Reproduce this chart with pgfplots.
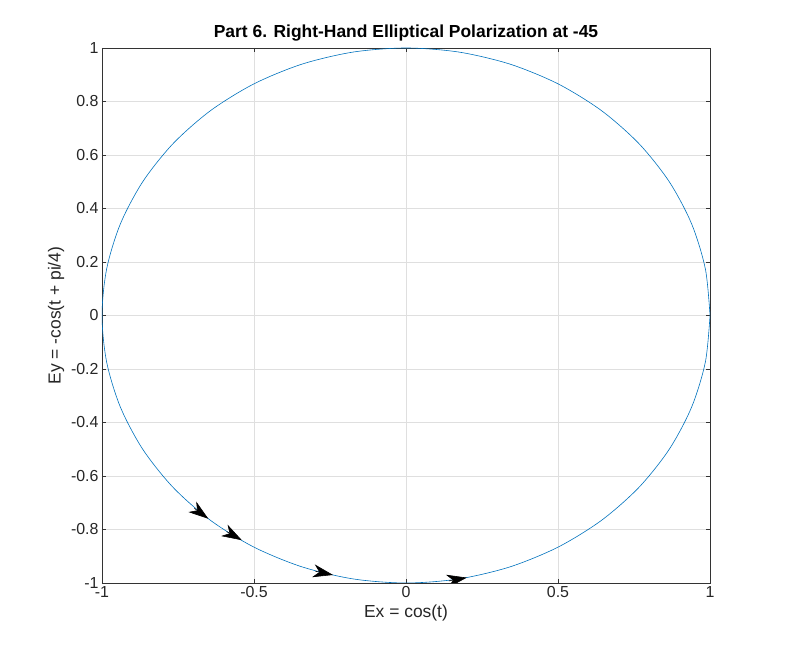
\documentclass[border=0pt]{standalone}
\usepackage{pgfplots}
\pgfplotsset{compat=1.18}
\usepackage{fontspec}
\setmainfont{Liberation Sans}
\usetikzlibrary{arrows.meta}
\definecolor{mblue}{RGB}{0,114,189}
\begin{document}
\begin{tikzpicture}[x=1bp,y=1bp]
\path[use as bounding box] (-102,-73) rectangle (684,583);
\begin{axis}[at={(0,0)},anchor=south west,scale only axis,width=608bp,height=535bp,
xmin=-1,xmax=1,ymin=-1,ymax=1,
xtick={-1,-0.5,0,0.5,1},ytick={-1,-0.8,...,1},
grid=major,major grid style={gray!25},
tick align=inside,tick style={black!80},axis line style={black!80},
ticklabel style={font=\fontsize{16}{18}\selectfont,text=black!85},
/pgf/number format/assume math mode=true,
yticklabel style={/pgf/number format/fixed,/pgf/number format/precision=1},
xlabel={Ex = cos(t)},ylabel={Ey = -cos(t + pi/4)},
label style={font=\fontsize{17.5}{20}\selectfont,text=black!85},
title={\textbf{Part 6. Right-Hand Elliptical Polarization at -45}},
title style={font=\fontsize{17.5}{20}\selectfont,yshift=-3bp},
]
\addplot[mblue,line width=0.6pt,smooth] coordinates {
(1,0)(0.9848,0.1736)(0.9397,0.3420)(0.8660,0.5)(0.7660,0.6428)(0.6428,0.7660)(0.5,0.8660)(0.3420,0.9397)(0.1736,0.9848)(0,1)
(-0.1736,0.9848)(-0.3420,0.9397)(-0.5,0.8660)(-0.6428,0.7660)(-0.7660,0.6428)(-0.8660,0.5)(-0.9397,0.3420)(-0.9848,0.1736)(-1,0)
(-0.9848,-0.1736)(-0.9397,-0.3420)(-0.8660,-0.5)(-0.7660,-0.6428)(-0.6428,-0.7660)(-0.5,-0.8660)(-0.3420,-0.9397)(-0.1736,-0.9848)(0,-1)
(0.1736,-0.9848)(0.3420,-0.9397)(0.5,-0.8660)(0.6428,-0.7660)(0.7660,-0.6428)(0.8660,-0.5)(0.9397,-0.3420)(0.9848,-0.1736)(1,0)};
\addplot[black,line width=0.6pt,-{Stealth[length=20bp,width=13bp,inset=6bp]},
 quiver={u=\thisrow{u},v=\thisrow{v}}] table {
x y u v
-0.696 -0.721 0.046 -0.039
-0.590 -0.808 0.050 -0.032
-0.298 -0.956 0.058 -0.014
0.141 -0.992 0.059 0.012
};
\end{axis}
\end{tikzpicture}
\end{document}
